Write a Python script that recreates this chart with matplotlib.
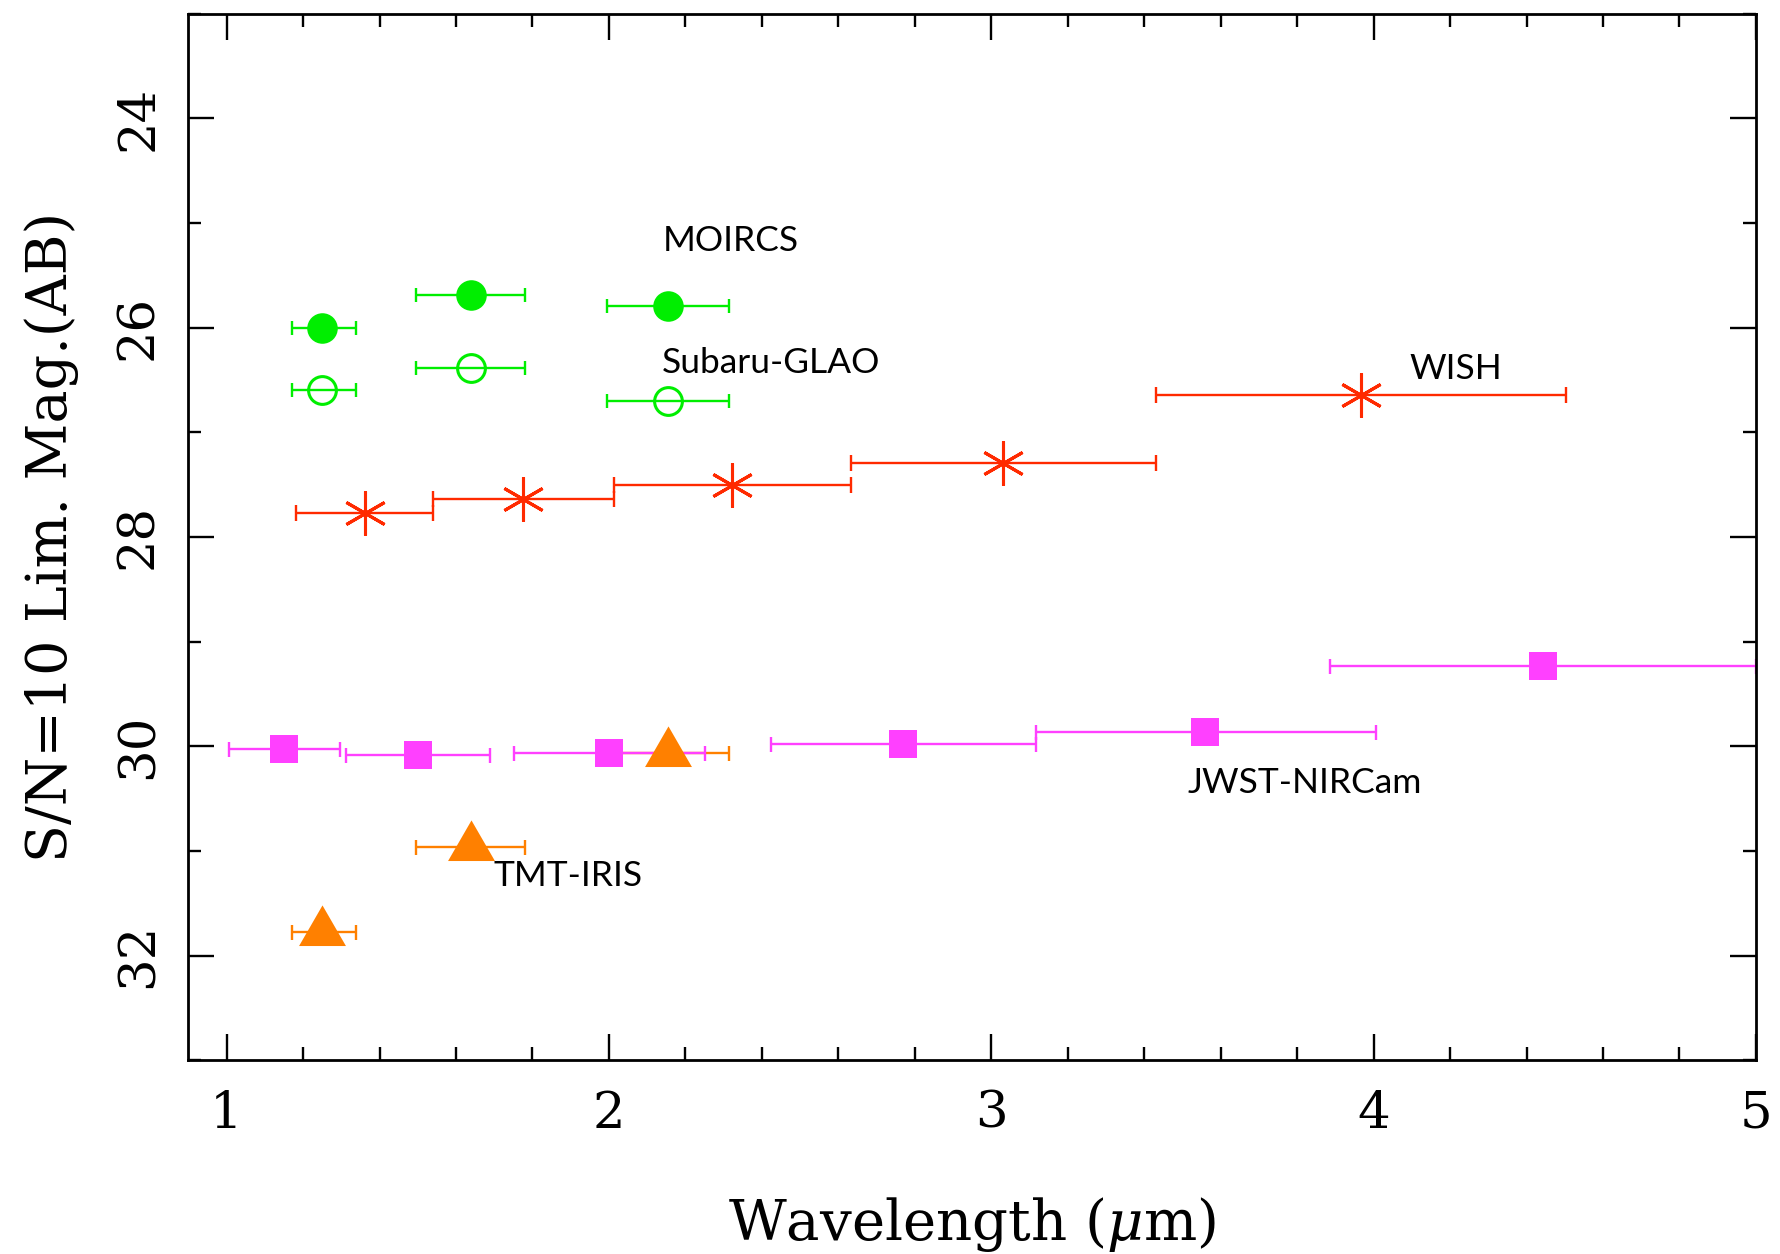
import numpy as np
import matplotlib.pyplot as plt
from matplotlib.ticker import MultipleLocator

# MOIRCS (filled) / Subaru-GLAO (open), J H Ks bands
moircs_wave = [1.25, 1.638, 2.154]
moircs_lo = [1.17, 1.496, 1.995]
moircs_hi = [1.338, 1.781, 2.313]
moircs_mag = [26.0, 25.69, 25.79]
glao_mag = [26.60, 26.39, 26.70]

# WISH
wish_wave = [1.361, 1.775, 2.321, 3.032, 3.966]
wish_lo = [1.181, 1.541, 2.012, 2.633, 3.431]
wish_hi = [1.541, 2.012, 2.633, 3.431, 4.502]
wish_mag = [27.77, 27.64, 27.50, 27.29, 26.64]

# JWST-NIRCam
jwst_wave = [1.151, 1.501, 2.0, 2.77, 3.56, 4.442]
jwst_lo = [1.006, 1.313, 1.752, 2.425, 3.118, 3.886]
jwst_hi = [1.296, 1.69, 2.252, 3.118, 4.006, 5.0]
jwst_mag = [30.03, 30.08, 30.06, 29.98, 29.86, 29.23]

# TMT-IRIS
iris_wave = [1.25, 1.638, 2.154]
iris_lo = [1.17, 1.496, 1.995]
iris_hi = [1.338, 1.781, 2.313]
iris_mag = [31.77, 30.96, 30.06]

green = '#00ee00'
red = '#ff2a00'
magenta = '#ff40ff'
orange = '#ff8000'


def xerr(w, lo, hi):
    return [np.subtract(w, lo), np.subtract(hi, w)]


plt.rcParams['font.family'] = 'DejaVu Serif'
plt.rcParams['mathtext.fontset'] = 'dejavuserif'

fig = plt.figure(figsize=(17.8, 12.54), dpi=100)
ax = fig.add_axes([0.1058, 0.1545, 0.8807, 0.8347])

elw = 1.7
ekw = dict(fmt='none', elinewidth=elw, capthick=elw)
# equilateral triangle with centroid at the data point
tri = [(-1, -0.577), (1, -0.577), (0, 1.155), (-1, -0.577)]

# MOIRCS
ax.errorbar(moircs_wave, moircs_mag, xerr=xerr(moircs_wave, moircs_lo, moircs_hi),
            ecolor=green, capsize=5.2, **ekw)
ax.plot(moircs_wave, moircs_mag, ls='none', marker='o', ms=22, color=green, mew=0)
# Subaru-GLAO
ax.errorbar(moircs_wave, glao_mag, xerr=xerr(moircs_wave, moircs_lo, moircs_hi),
            ecolor=green, capsize=5.2, **ekw)
ax.plot(moircs_wave, glao_mag, ls='none', marker='o', ms=20, mfc='none', mec=green, mew=2.2)
# WISH
ax.errorbar(wish_wave, wish_mag, xerr=xerr(wish_wave, wish_lo, wish_hi),
            ecolor=red, capsize=6.1, **ekw)
ax.plot(wish_wave, wish_mag, ls='none', marker=(6, 2, 0), ms=31.7, mec=red, mew=2.2)
# TMT-IRIS bars sit under the NIRCam ones
ax.errorbar(iris_wave, iris_mag, xerr=xerr(iris_wave, iris_lo, iris_hi),
            ecolor=orange, capsize=5.4, **ekw)
# JWST-NIRCam
ax.errorbar(jwst_wave, jwst_mag, xerr=xerr(jwst_wave, jwst_lo, jwst_hi),
            ecolor=magenta, capsize=5.4, **ekw)
ax.plot(jwst_wave, jwst_mag, ls='none', marker='s', ms=20, color=magenta, mew=0)
# TMT-IRIS markers
ax.plot(iris_wave, iris_mag, ls='none', marker=tri, ms=39, color=orange, mew=0)

# labels
tkw = dict(family='Lato', fontsize=25.5, ha='left', va='baseline')
ax.text(2.141, 25.268, 'MOIRCS', **tkw)
ax.text(2.139, 26.434, 'Subaru-GLAO', **tkw)
ax.text(4.093, 26.491, 'WISH', **tkw)
ax.text(1.697, 31.335, 'TMT-IRIS', **tkw)
ax.text(3.512, 30.446, 'JWST-NIRCam', **tkw)

ax.set_xlim(0.9, 5.0)
ax.set_ylim(33, 23)
ax.xaxis.set_major_locator(MultipleLocator(1))
ax.xaxis.set_minor_locator(MultipleLocator(0.2))
ax.yaxis.set_major_locator(MultipleLocator(2))
ax.yaxis.set_minor_locator(MultipleLocator(1))

ax.tick_params(which='both', direction='in', top=True, right=True, width=1.7)
ax.tick_params(which='major', length=18.4, labelsize=37)
ax.tick_params(which='minor', length=9.6)
ax.tick_params(axis='x', pad=21)
ax.tick_params(axis='y', pad=18, labelrotation=90)
for lab in ax.get_yticklabels():
    lab.set_va('center')
for s in ax.spines.values():
    s.set_linewidth(2)

ax.set_xlabel(r'Wavelength ($\mu$m)', fontsize=40.5)
ax.xaxis.set_label_coords(0.5, -0.172)
ax.xaxis.label.set_va('baseline')
ax.set_ylabel('S/N=10 Lim. Mag.(AB)', fontsize=40)
ax.yaxis.set_label_coords(-0.0774, 0.5)
ax.yaxis.label.set_va('baseline')

fig.savefig('out.png', dpi=100)
